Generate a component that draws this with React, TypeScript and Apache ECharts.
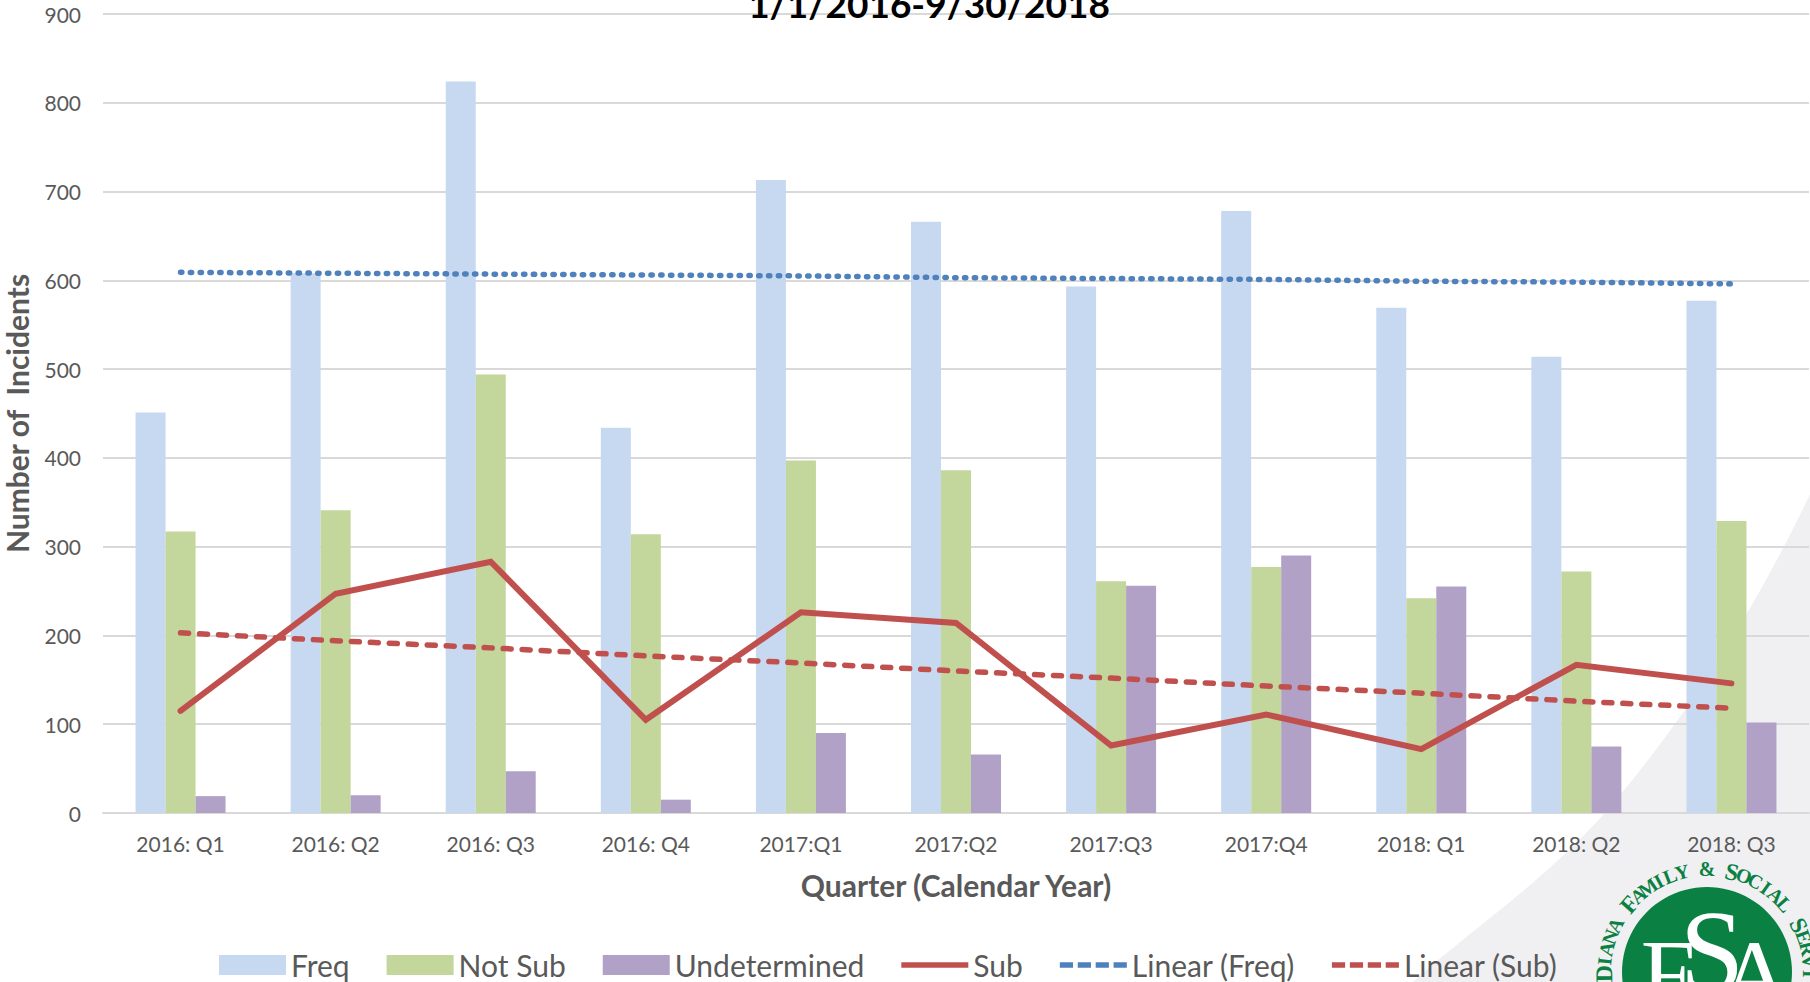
import React, { useEffect, useRef } from "react";
import * as echarts from "echarts";

const categories = ["2016: Q1","2016: Q2","2016: Q3","2016: Q4","2017:Q1","2017:Q2","2017:Q3","2017:Q4","2018: Q1","2018: Q2","2018: Q3"];
const freq = [451,608,824,434,713,666,593,678,569,514,577];
const notSub = [317,341,494,314,397,386,261,277,242,272,329];
const undetermined = [19,20,47,15,90,66,256,290,255,75,102];
const sub = [115,247,283,105,226,214,76,111,72,167,146];
const linearFreq = [609,608,607,606,605,603,602,601,599,598,596];
const linearSub = [203,194,186,177,169,160,152,143,135,126,118];
const titleText = "1/1/2016-9/30/2018";
const ringText = "DIANA FAMILY & SOCIAL SERVI";

const FONT = "Lato";
const GREY = "#595959";
const GREEN = "#0b8043";

echarts.graphic.registerShape(
  "swoosh",
  echarts.graphic.extendPath("M1810 494 C1760 600 1690 715 1603 815 C1540 885 1470 930 1413 982 L1810 982 Z", {})
);

const cx = 1707, cy = 972, ringR = 103;
const capitals = [0, 6, 15, 22];
const ring = Array.from(ringText).map((ch, i) => {
  const a = ((-91 + i * 7) * Math.PI) / 180;
  return {
    type: "text", z: -1,
    x: cx + ringR * Math.sin(a), y: cy - ringR * Math.cos(a), rotation: -a,
    style: { text: ch, fill: GREEN, font: `bold ${capitals.includes(i) ? 24 : 20}px "Liberation Serif"`, textAlign: "center", textVerticalAlign: "middle" },
  };
});
const letter = (t: string, x: number, y: number, size: number) => ({
  type: "text", z: -1, x, y,
  style: { text: t, fill: "#fff", font: `${size}px "Liberation Serif"`, textAlign: "center", textVerticalAlign: "middle" },
});

const solidIcon = "path://M0 0H71V6H0Z";
const dashIcon = "path://M0 0H14V6H0Z M19 0H33V6H19Z M38 0H52V6H38Z M57 0H71V6H57Z";

export default function App() {
  const ref = useRef<HTMLDivElement>(null);
  useEffect(() => {
    document.body.style.margin = "0";
    document.body.style.overflow = "hidden";
    const chart = echarts.init(ref.current!, null, { renderer: "svg" });
    const bar = (name: string, data: number[], color: string) => ({
      name, type: "bar", data, barWidth: 30, barGap: "0%", itemStyle: { color }, z: 2,
    });
    const line = (name: string, data: number[], color: string, width: number, type: any, cap: string) => ({
      name, type: "line", data, symbol: "none", z: 3,
      lineStyle: { color, width, type, cap, join: "miter" }, itemStyle: { color },
    });
    chart.setOption({
      animation: false,
      backgroundColor: "#fff",
      textStyle: { fontFamily: FONT },
      title: {
        text: titleText, left: 924, top: -20, textAlign: "center",
        textStyle: { fontFamily: FONT, fontWeight: "bold", fontSize: 37, color: "#000" },
      },
      grid: { left: 103, right: 1, top: 14, height: 799, containLabel: false, outerBoundsMode: "none" },
      legend: {
        left: 214, top: 945, itemWidth: 67, itemHeight: 20, itemGap: 37,
        data: [
          { name: "Freq", icon: "rect" },
          { name: "Not Sub", icon: "rect" },
          { name: "Undetermined", icon: "rect" },
          { name: "Sub", icon: solidIcon },
          { name: "Linear (Freq)", icon: dashIcon },
          { name: "Linear (Sub)", icon: dashIcon },
        ],
        textStyle: { fontFamily: FONT, fontSize: 30, color: GREY },
      },
      xAxis: {
        type: "category", data: categories,
        axisTick: { show: false },
        axisLine: { lineStyle: { color: "#d9d9d9", width: 2 } },
        axisLabel: { fontFamily: FONT, fontSize: 21, color: GREY, margin: 20, interval: 0 },
        name: "Quarter (Calendar Year)", nameLocation: "middle", nameGap: 57,
        nameTextStyle: { fontFamily: FONT, fontWeight: "bold", fontSize: 30, color: GREY },
      },
      yAxis: {
        type: "value", min: 0, max: 900, interval: 100,
        axisLine: { show: false }, axisTick: { show: false },
        splitLine: { lineStyle: { color: "#d9d9d9", width: 2 } },
        axisLabel: { fontFamily: FONT, fontSize: 21, color: GREY, margin: 22 },
        name: "Number of  Incidents", nameLocation: "middle", nameGap: 71, nameRotate: 90,
        nameTextStyle: { fontFamily: FONT, fontWeight: "bold", fontSize: 30, color: GREY },
      },
      graphic: [
        { type: "swoosh", z: -2, x: 0, y: 0, style: { fill: "#f0f0f3" }, silent: true },
        { type: "circle", z: -1, shape: { cx, cy, r: 85 }, style: { fill: GREEN } },
        letter("S", 1712, 952, 116),
        letter("F", 1668, 974, 98),
        letter("A", 1755, 974, 98),
        ...ring,
      ],
      series: [
        bar("Freq", freq, "#c6d9f1"),
        bar("Not Sub", notSub, "#c3d69b"),
        bar("Undetermined", undetermined, "#b2a1c7"),
        line("Sub", sub, "#c0504d", 6, "solid", "round"),
        line("Linear (Freq)", linearFreq, "#4f81bd", 5.5, [1.3, 8.5], "round"),
        line("Linear (Sub)", linearSub, "#c0504d", 5.5, [8, 11], "round"),
      ],
    });
    return () => chart.dispose();
  }, []);
  return <div ref={ref} style={{ position: "absolute", left: 0, top: 0, width: 1810, height: 982 }} />;
}
